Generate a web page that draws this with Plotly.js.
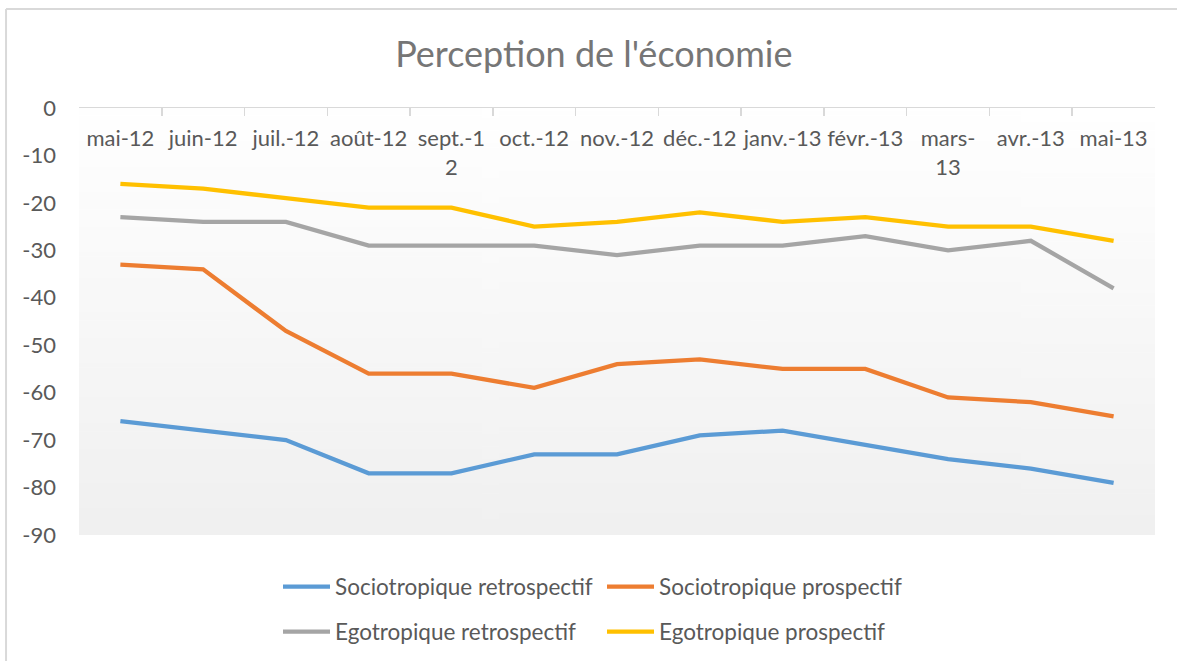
<!DOCTYPE html>
<html><head><meta charset="utf-8">
<script src="https://cdn.plot.ly/plotly-3.0.1.min.js"></script>
<style>html,body{margin:0;padding:0;background:#fff}#chart{width:1177px;height:661px}</style>
</head><body><div id="chart"></div>
<script>
const months = ["mai-12","juin-12","juil.-12","août-12","sept.-12","oct.-12","nov.-12","déc.-12","janv.-13","févr.-13","mars-13","avr.-13","mai-13"];
const tickLabels = ["mai-12","juin-12","juil.-12","août-12","sept.-1<br>2","oct.-12","nov.-12","déc.-12","janv.-13","févr.-13","mars-<br>13","avr.-13","mai-13"];
const sociotropiqueRetrospectif = [-66,-68,-70,-77,-77,-73,-73,-69,-68,-71,-74,-76,-79];
const sociotropiqueProspectif = [-33,-34,-47,-56,-56,-59,-54,-53,-55,-55,-61,-62,-65];
const egotropiqueRetrospectif = [-23,-24,-24,-29,-29,-29,-31,-29,-29,-27,-30,-28,-38];
const egotropiqueProspectif = [-16,-17,-19,-21,-21,-25,-24,-22,-24,-23,-25,-25,-28];
const seriesNames = ["Sociotropique retrospectif","Sociotropique prospectif","Egotropique retrospectif","Egotropique prospectif"];
const seriesColors = ["#5B9BD5","#ED7D31","#A5A5A5","#FFC000"];
const yTicks = [0,-10,-20,-30,-40,-50,-60,-70,-80,-90];
const titleText = "Perception de l'économie";

const FONT = "Lato, 'Open Sans', sans-serif";
const TXT = "#595959";

// plot-area gradient (white -> light grey)
const cv = document.createElement('canvas');
cv.width = 4; cv.height = 200;
const ctx = cv.getContext('2d');
const g = ctx.createLinearGradient(0,0,0,200);
g.addColorStop(0,'#ffffff'); g.addColorStop(1,'#f0f0f0');
ctx.fillStyle = g; ctx.fillRect(0,0,4,200);

const catIdx = months.map((_,i)=>i);
const catRange = [-0.5, months.length-0.5];

const seriesValues = [sociotropiqueRetrospectif, sociotropiqueProspectif, egotropiqueRetrospectif, egotropiqueProspectif];
const traces = seriesValues.map((vals,i)=>({
  type:'scatter', mode:'lines', x: months, y: vals, name: seriesNames[i],
  line:{color: seriesColors[i], width:4.3},
  legend: i<2 ? 'legend' : 'legend2',
  hoverinfo:'x+y+name'
}));
// invisible carrier so the label axis (xaxis2, category positions 0..n-1) is drawn
traces.unshift({type:'scatter', mode:'lines', xaxis:'x2', x: catIdx, y: egotropiqueProspectif,
  line:{color:'rgba(0,0,0,0)', width:0}, showlegend:false, hoverinfo:'skip'});

const layout = {
  width:1177, height:661,
  margin:{l:79, r:22, t:108, b:126, autoexpand:false},
  paper_bgcolor:'#ffffff', plot_bgcolor:'rgba(0,0,0,0)',
  font:{family:FONT, color:TXT, size:22},
  title:{text:titleText, font:{family:FONT, size:36, color:'#767676'}, x:0.5045, xanchor:'center', y:0.918, yanchor:'middle'},
  xaxis:{type:'category', categoryorder:'array', categoryarray:months, range:catRange,
    side:'top', showline:true, linecolor:'#d9d9d9', linewidth:1.5,
    ticks:'inside', ticklen:8, tickcolor:'#d9d9d9', tickwidth:1.5, tickson:'boundaries',
    showticklabels:false, showgrid:false, zeroline:false, fixedrange:true},
  xaxis2:{type:'linear', overlaying:'x', anchor:'free', position:0.965, side:'bottom', range:catRange,
    tickvals:catIdx, ticktext:tickLabels, showline:false, ticks:'', showgrid:false, zeroline:false,
    tickfont:{size:22, color:TXT}, fixedrange:true},
  yaxis:{range:[-90,0], tickvals:yTicks, ticktext:yTicks.map(String), showgrid:false, zeroline:false, showline:false,
    ticks:'', ticklabelstandoff:22, tickfont:{size:22, color:TXT}, fixedrange:true},
  showlegend:true,
  legend:{orientation:'h', xref:'container', yref:'container', x:0.2362, xanchor:'left', y:0.112, yanchor:'middle',
    entrywidth:262, entrywidthmode:'pixels', itemwidth:47, font:{size:22.5, color:TXT}, bgcolor:'rgba(0,0,0,0)'},
  legend2:{orientation:'h', xref:'container', yref:'container', x:0.2362, xanchor:'left', y:0.0439, yanchor:'middle',
    entrywidth:262, entrywidthmode:'pixels', itemwidth:47, font:{size:22.5, color:TXT}, bgcolor:'rgba(0,0,0,0)'},
  images:[{source: cv.toDataURL(), xref:'paper', yref:'paper', x:0, y:1, sizex:1, sizey:1,
    sizing:'stretch', xanchor:'left', yanchor:'top', layer:'below'}],
  shapes:[
    {type:'line', xref:'paper', yref:'paper', x0:-0.0678, x1:-0.0678, y0:-0.32, y1:1.2319, line:{color:'#d9d9d9', width:2}},
    {type:'line', xref:'paper', yref:'paper', x0:-0.0678, x1:1.05, y0:1.2319, y1:1.2319, line:{color:'#d9d9d9', width:2}}
  ]
};
Plotly.newPlot('chart', traces, layout, {displayModeBar:false, staticPlot:true});
</script></body></html>
